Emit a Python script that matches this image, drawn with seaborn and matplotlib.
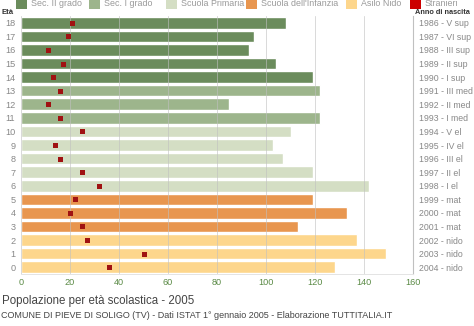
import matplotlib
matplotlib.use("Agg")
import matplotlib.pyplot as plt
from matplotlib.patches import Rectangle
import seaborn as sns
import pandas as pd

# Age groups from 18 (top) down to 0
eta = [18, 17, 16, 15, 14, 13, 12, 11, 10, 9, 8, 7, 6, 5, 4, 3, 2, 1, 0]
popolazione = [108, 95, 93, 104, 119, 122, 85, 122, 110, 103, 107, 119, 142,
               119, 133, 113, 137, 149, 128]
stranieri = [21, 19, 11, 17, 13, 16, 11, 16, 25, 14, 16, 25, 32,
             22, 20, 25, 27, 50, 36]
scuola = (["Sec. II grado"] * 5 + ["Sec. I grado"] * 3 + ["Scuola Primaria"] * 5
          + ["Scuola dell'Infanzia"] * 3 + ["Asilo Nido"] * 3)
anno_nascita = ["1986 - V sup", "1987 - VI sup", "1988 - III sup", "1989 - II sup",
                "1990 - I sup", "1991 - III med", "1992 - II med", "1993 - I med",
                "1994 - V el", "1995 - IV el", "1996 - III el", "1997 - II el",
                "1998 - I el", "1999 - mat", "2000 - mat", "2001 - mat",
                "2002 - nido", "2003 - nido", "2004 - nido"]

colori = {
    "Sec. II grado": "#6b8c5c",
    "Sec. I grado": "#9db58c",
    "Scuola Primaria": "#d4dec4",
    "Scuola dell'Infanzia": "#e8964f",
    "Asilo Nido": "#fdd68c",
}
col_stranieri = "#a01212"

df = pd.DataFrame({
    "eta": [str(e) for e in eta],
    "pop": popolazione,
    "str": stranieri,
    "scuola": scuola,
})
ordine = [str(e) for e in eta]

sns.set_style("white")
plt.rcParams["font.family"] = ["Liberation Sans", "DejaVu Sans"]

fig = plt.figure(figsize=(4.74, 3.26), dpi=100)
ax = fig.add_axes([21 / 474, 1 - 274 / 326, (413 - 21) / 474, (274 - 16) / 326])

sns.barplot(data=df, x="pop", y="eta", hue="scuola", order=ordine,
            palette=colori, dodge=False, width=0.85, saturation=1,
            legend=False, ax=ax, zorder=1)
sns.stripplot(data=df, x="str", y="eta", order=ordine, jitter=False,
              marker="s", size=3.6, color=col_stranieri, linewidth=0,
              ax=ax, zorder=4)

ax.set_xlim(0, 160)
ax.set_ylim(18.5, -0.5)
ax.set_xticks(range(0, 161, 20))
ax.set_xlabel("")
ax.set_ylabel("")
ax.grid(axis="x", color="#c0c0c0", lw=0.7, alpha=0.6)
ax.grid(axis="y", visible=False)
ax.set_axisbelow(False)
for s in ("top", "left"):
    ax.spines[s].set_visible(False)
ax.spines["right"].set_color("#c0c0c0")
ax.spines["right"].set_linewidth(0.8)
ax.spines["bottom"].set_color("#e4e4e4")
ax.spines["bottom"].set_linewidth(0.7)
ax.tick_params(axis="x", length=0, pad=3, labelsize=6.6, labelcolor="#5a8a45")
ax.tick_params(axis="y", length=0, pad=4, labelsize=6.6, labelcolor="#888888")

# birth year / school class labels on the right
ax2 = ax.twinx()
ax2.set_ylim(ax.get_ylim())
ax2.set_yticks(range(len(anno_nascita)))
ax2.set_yticklabels(anno_nascita)
ax2.tick_params(axis="y", length=0, pad=4, labelsize=6.3, labelcolor="#888888")
for s in ax2.spines.values():
    s.set_visible(False)
ax2.grid(False)

fig.text(2 / 474, 1 - 13 / 326, "Età", fontsize=5.6, fontweight="bold",
         color="#333333", va="center", ha="left")
fig.text(415 / 474, 1 - 13 / 326, "Anno di nascita", fontsize=5.3,
         fontweight="bold", color="#333333", va="center", ha="left")

# legend row
voci = list(colori.items()) + [("Stranieri", "#cc0000")]
px_patch = [16, 89, 166, 246, 346, 410]
for (nome, col), x0 in zip(voci, px_patch):
    fig.patches.append(Rectangle((x0 / 474, 1 - 9 / 326), 11 / 474, 11 / 326,
                                 transform=fig.transFigure, facecolor=col,
                                 edgecolor="none"))
    fig.text((x0 + 15) / 474, 1 - 4 / 326, nome, fontsize=6.4,
             color="#999999", va="center", ha="left")

fig.text(2 / 474, 1 - 301 / 326, "Popolazione per età scolastica - 2005",
         fontsize=8.3, color="#444444", va="center", ha="left")
fig.text(1 / 474, 1 - 316 / 326,
         "COMUNE DI PIEVE DI SOLIGO (TV) - Dati ISTAT 1° gennaio 2005 - Elaborazione TUTTITALIA.IT",
         fontsize=6.5, color="#444444", va="center", ha="left")

fig.savefig("out.png", dpi=100)
